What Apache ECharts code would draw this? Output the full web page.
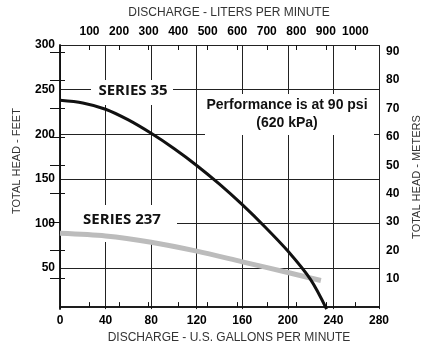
<!DOCTYPE html>
<html>
<head>
<meta charset="utf-8">
<script src="https://cdn.jsdelivr.net/npm/echarts@6/dist/echarts.min.js"></script>
<style>
  html, body { margin: 0; padding: 0; background: #fff; }
  #chart { width: 430px; height: 349px; }
</style>
</head>
<body>
<div id="chart"></div>
<script>
// discharge in US gallons per minute vs total head in feet
const gallons35 = [0, 20, 40, 60, 80, 100, 120, 140, 160, 180, 200, 220, 234];
const head35 = [238, 235, 228, 216, 201, 184, 165, 144, 121, 96, 69, 37, 4];
const gallons237 = [0, 40, 80, 120, 160, 200, 229];
const head237 = [89, 86, 79, 69, 57, 45, 36];

const feetTicks = [50, 100, 150, 200, 250, 300];
const meterTicks = [10, 20, 30, 40, 50, 60, 70, 80, 90];
const literTicks = [100, 200, 300, 400, 500, 600, 700, 800, 900, 1000];

const ink = '#111';
const tickFont = { color: '#000', fontSize: 12, fontWeight: 'bold', fontFamily: '"Liberation Sans", Arial, sans-serif' };
const nameFont = { color: '#333', fontSize: 11, fontFamily: '"Liberation Sans", Arial, sans-serif' };
const axisLine = { show: true, lineStyle: { color: ink, width: 1.5 } };
const plain = (v) => String(v);

const chart = echarts.init(document.getElementById('chart'));

chart.setOption({
  animation: false,
  grid: { left: 60, top: 45, width: 326, height: 267 },
  xAxis: [
    {
      type: 'value', position: 'bottom', min: 0, max: 280, interval: 40,
      axisLine, axisTick: { show: false },
      axisLabel: { ...tickFont, margin: 6, formatter: plain },
      splitLine: { show: true, lineStyle: { color: '#222', width: 1 } },
      name: 'DISCHARGE - U.S. GALLONS PER MINUTE', nameLocation: 'middle', nameGap: 22,
      nameTextStyle: { ...nameFont, fontSize: 12, verticalAlign: 'top', padding: [0, 0, 0, 19] },
    },
    {
      type: 'value', position: 'top', min: 0, max: 1080,
      axisLine,
      axisTick: { show: true, length: 5, customValues: literTicks, lineStyle: { color: ink, width: 1 } },
      axisLabel: { ...tickFont, margin: 7, customValues: literTicks, formatter: plain },
      splitLine: { show: false },
      name: 'DISCHARGE - LITERS PER MINUTE', nameLocation: 'middle', nameGap: 26,
      nameTextStyle: { ...nameFont, fontSize: 12, verticalAlign: 'bottom', padding: [0, 0, 0, 19] },
    },
    {
      type: 'value', position: 'top', min: 0, max: 1080,
      axisLine: { show: false },
      axisTick: { show: true, inside: true, length: 5, customValues: literTicks, lineStyle: { color: ink, width: 1 } },
      axisLabel: { show: false },
      splitLine: { show: false },
    },
  ],
  yAxis: [
    {
      type: 'value', position: 'left', min: 4, max: 300,
      axisLine, axisTick: { show: false, customValues: feetTicks },
      axisLabel: { ...tickFont, margin: 5, customValues: feetTicks, formatter: plain },
      splitLine: { show: true, lineStyle: { color: '#222', width: 1 } },
      name: 'TOTAL HEAD - FEET', nameLocation: 'middle', nameGap: 38, nameRotate: 90,
      nameTextStyle: { ...nameFont, padding: [0, 0, 0, 32] },
    },
    {
      type: 'value', position: 'right', min: -0.7, max: 92.4,
      axisLine,
      axisTick: { show: true, length: 5, customValues: meterTicks, lineStyle: { color: ink, width: 1 } },
      axisLabel: { ...tickFont, margin: 7, customValues: meterTicks, formatter: plain },
      splitLine: { show: false },
      name: 'TOTAL HEAD - METERS', nameLocation: 'middle', nameGap: 32, nameRotate: 90,
      nameTextStyle: { ...nameFont },
    },
    {
      type: 'value', position: 'right', min: -0.7, max: 92.4,
      axisLine: { show: false },
      axisTick: { show: true, inside: true, length: 10, customValues: meterTicks, lineStyle: { color: ink, width: 1 } },
      axisLabel: { show: false },
      splitLine: { show: false },
    },
  ],
  series: [
    {
      name: 'SERIES 237', type: 'line', smooth: 0.3, showSymbol: false,
      data: gallons237.map((g, i) => [g, head237[i]]),
      lineStyle: { color: '#bcbcbc', width: 5, cap: 'butt' },
      z: 3,
    },
    {
      name: 'SERIES 35', type: 'line', smooth: 0.3, showSymbol: false,
      data: gallons35.map((g, i) => [g, head35[i]]),
      lineStyle: { color: ink, width: 3, cap: 'butt' },
      z: 4,
    },
  ],
  graphic: [
    // white patches that break the grid behind the labels
    { type: 'rect', shape: { x: 91, y: 80, width: 82, height: 25 }, style: { fill: '#fff' }, z: 1 },
    { type: 'rect', shape: { x: 61, y: 205, width: 116, height: 37 }, style: { fill: '#fff' }, z: 1 },
    { type: 'rect', shape: { x: 205, y: 94, width: 169, height: 41 }, style: { fill: '#fff' }, z: 1 },
    {
      type: 'text', x: 133, y: 91, z: 10,
      style: { text: 'SERIES 35', fill: ink, font: 'bold 15px "Open Sans", sans-serif', align: 'center', verticalAlign: 'middle' },
    },
    {
      type: 'text', x: 122, y: 220, z: 10,
      style: { text: 'SERIES 237', fill: ink, font: 'bold 15px "Open Sans", sans-serif', align: 'center', verticalAlign: 'middle' },
    },
    {
      type: 'text', x: 287, y: 114, z: 10,
      style: {
        text: 'Performance is at 90 psi\n(620 kPa)', fill: ink,
        font: 'bold 14px "Liberation Sans", Arial, sans-serif', lineHeight: 18,
        align: 'center', verticalAlign: 'middle',
      },
    },
  ],
});
</script>
</body>
</html>
